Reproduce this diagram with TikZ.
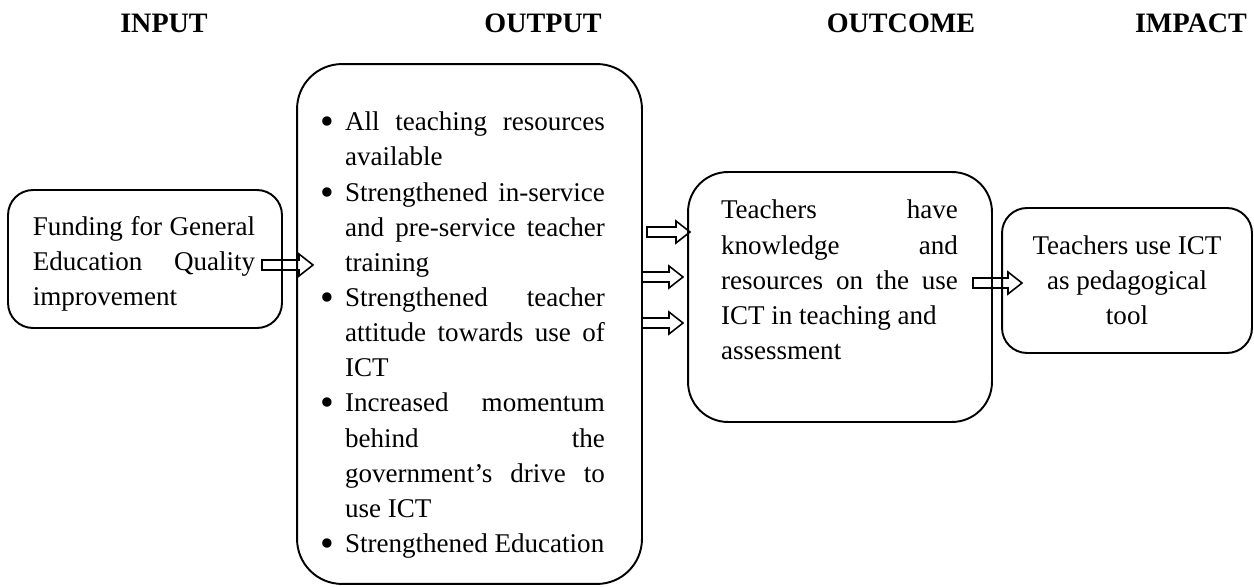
\documentclass[tikz,border=0pt]{standalone}
\usepackage{fontspec}
\setmainfont{Liberation Serif}
\usetikzlibrary{calc}

\setlength{\parindent}{0pt}
\tolerance=9999
\hbadness=10000
\hyphenpenalty=10000

\tikzset{
  box/.style={draw, line width=1.1pt, inner sep=0pt},
  body/.style={font=\fontsize{15.4}{20}\selectfont, inner sep=0pt},
  heading/.style={font=\fontsize{16}{20}\selectfont\bfseries, anchor=base},
  arrowline/.style={draw, line width=0.9pt},
}

% bullet hung in the left margin
\newcommand{\bitem}{\par\noindent\llap{\raisebox{-0.15em}{\scalebox{1.45}{\textbullet}}\hspace{0.22cm}}}

% hollow block arrow from #1 to #2
\newcommand{\blockarrow}[2]{%
  \draw[arrowline] let \p1=(#1), \p2=(#2) in
    (\x1,\y1+0.1cm) -- (\x2-0.28cm,\y1+0.1cm) -- (\x2-0.28cm,\y1+0.22cm)
    -- (\x2,\y1) -- (\x2-0.28cm,\y1-0.22cm) -- (\x2-0.28cm,\y1-0.1cm)
    -- (\x1,\y1-0.1cm) -- cycle;}

\begin{document}
\begin{tikzpicture}[x=0.02cm, y=-0.02cm]
\useasboundingbox (0,0) rectangle (1254,587);

% Headings
\node[heading] (hinput) at (164,33) {INPUT};
\node[heading] (houtput) at (543,33) {OUTPUT};
\node[heading] (houtcome) at (901,33) {OUTCOME};
\node[heading] (himpact) at (1191,33) {IMPACT};

% Input
\node[box, rounded corners=0.5cm, minimum width=5.48cm, minimum height=2.76cm] (input) at (145,259) {};
\node[body, text width=4.45cm, align=justify] (inputtext) at (144,264)
  {Funding for General\linebreak Education Quality\linebreak improvement};

% Output
\node[box, rounded corners=0.9cm, minimum width=6.9cm, minimum height=10.4cm] (output) at (469.5,324) {};
\node[body, text width=5.2cm, align=justify] (outputtext) at (475,327) {%
\bitem All teaching resources\linebreak available
\bitem Strengthened in-service\linebreak and pre-service teacher\linebreak training
\bitem Strengthened teacher\linebreak attitude towards use of\linebreak ICT
\bitem Increased momentum\linebreak behind the\linebreak government's drive to\linebreak use ICT
\bitem Strengthened Education};

% Outcome
\node[box, rounded corners=0.8cm, minimum width=6.08cm, minimum height=5cm] (outcome) at (840,297) {};
\node[body, text width=4.74cm, align=justify] (outcometext) at (839.5,280)
  {Teachers have\linebreak knowledge and\linebreak resources on the use\linebreak ICT in teaching and\newline assessment};

% Impact
\node[box, body, rounded corners=0.5cm, minimum width=5cm, minimum height=2.9cm,
      align=center] (impact) at (1127,280.5)
  {Teachers use ICT\\ as pedagogical\\ tool};

% Arrow ends
\coordinate (a1) at (262,265); \coordinate (b1) at (313,265);
\coordinate (a2) at (647,232); \coordinate (b2) at (690,232);
\coordinate (a3) at (642,277); \coordinate (b3) at (683,277);
\coordinate (a4) at (642,323); \coordinate (b4) at (683,323);
\coordinate (a5) at (973,283); \coordinate (b5) at (1022,283);

\blockarrow{a1}{b1}
\blockarrow{a2}{b2}
\blockarrow{a3}{b3}
\blockarrow{a4}{b4}
\blockarrow{a5}{b5}
\end{tikzpicture}
\end{document}
